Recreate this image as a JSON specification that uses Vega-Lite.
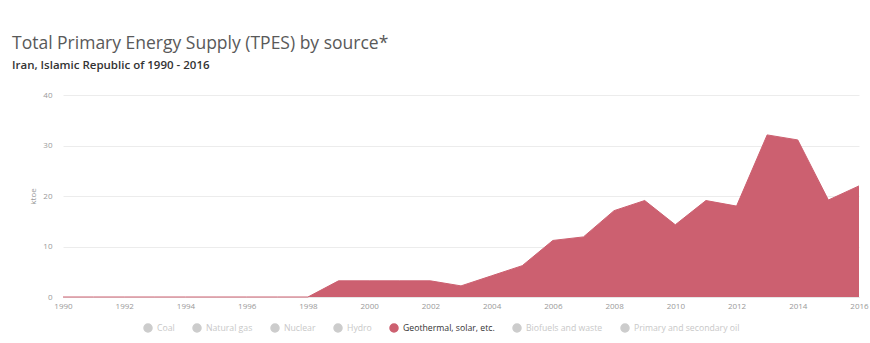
{
  "$schema": "https://vega.github.io/schema/vega-lite/v6.json",
  "width": 796,
  "height": 202,
  "autosize": {"type": "none"},
  "padding": {"left": 63, "top": 95, "right": 11, "bottom": 46},
  "background": "white",
  "config": {
    "font": "Open Sans",
    "view": {"stroke": null}
  },
  "title": {
    "text": "Total Primary Energy Supply (TPES) by source*",
    "subtitle": "Iran, Islamic Republic of 1990 - 2016",
    "anchor": "start",
    "frame": "group",
    "dx": -51,
    "fontSize": 17.5,
    "fontWeight": "normal",
    "color": "#595959",
    "subtitleFontSize": 11.5,
    "subtitleFontWeight": 600,
    "subtitleColor": "#333333",
    "subtitlePadding": 7,
    "offset": 20
  },
  "data": {
    "values": [
      {"year": 1990, "value": 0, "source": "Geothermal, solar, etc."},
      {"year": 1991, "value": 0, "source": "Geothermal, solar, etc."},
      {"year": 1992, "value": 0, "source": "Geothermal, solar, etc."},
      {"year": 1993, "value": 0, "source": "Geothermal, solar, etc."},
      {"year": 1994, "value": 0, "source": "Geothermal, solar, etc."},
      {"year": 1995, "value": 0, "source": "Geothermal, solar, etc."},
      {"year": 1996, "value": 0, "source": "Geothermal, solar, etc."},
      {"year": 1997, "value": 0, "source": "Geothermal, solar, etc."},
      {"year": 1998, "value": 0, "source": "Geothermal, solar, etc."},
      {"year": 1999, "value": 3.2, "source": "Geothermal, solar, etc."},
      {"year": 2000, "value": 3.2, "source": "Geothermal, solar, etc."},
      {"year": 2001, "value": 3.2, "source": "Geothermal, solar, etc."},
      {"year": 2002, "value": 3.2, "source": "Geothermal, solar, etc."},
      {"year": 2003, "value": 2.2, "source": "Geothermal, solar, etc."},
      {"year": 2004, "value": 4.2, "source": "Geothermal, solar, etc."},
      {"year": 2005, "value": 6.2, "source": "Geothermal, solar, etc."},
      {"year": 2006, "value": 11.2, "source": "Geothermal, solar, etc."},
      {"year": 2007, "value": 11.9, "source": "Geothermal, solar, etc."},
      {"year": 2008, "value": 17.1, "source": "Geothermal, solar, etc."},
      {"year": 2009, "value": 19.1, "source": "Geothermal, solar, etc."},
      {"year": 2010, "value": 14.3, "source": "Geothermal, solar, etc."},
      {"year": 2011, "value": 19.1, "source": "Geothermal, solar, etc."},
      {"year": 2012, "value": 18.0, "source": "Geothermal, solar, etc."},
      {"year": 2013, "value": 32.1, "source": "Geothermal, solar, etc."},
      {"year": 2014, "value": 31.1, "source": "Geothermal, solar, etc."},
      {"year": 2015, "value": 19.2, "source": "Geothermal, solar, etc."},
      {"year": 2016, "value": 22.0, "source": "Geothermal, solar, etc."}
    ]
  },
  "mark": {
    "type": "area",
    "fillOpacity": 1,
    "line": {"color": "#b4505f", "strokeWidth": 1}
  },
  "encoding": {
    "x": {
      "field": "year",
      "type": "quantitative",
      "scale": {"domain": [1990, 2016], "nice": false, "zero": false},
      "axis": {
        "title": null,
        "values": [1990, 1992, 1994, 1996, 1998, 2000, 2002, 2004, 2006, 2008, 2010, 2012, 2014, 2016],
        "format": "d",
        "grid": false,
        "ticks": false,
        "domain": true,
        "domainColor": "#e6e6e6",
        "labelColor": "#999999",
        "labelFontSize": 8,
        "labelPadding": 5,
        "labelFlush": false
      }
    },
    "y": {
      "field": "value",
      "type": "quantitative",
      "scale": {"domain": [0, 40], "nice": false},
      "axis": {
        "title": "ktoe",
        "titleFontSize": 8,
        "titleFontWeight": "normal",
        "titleColor": "#999999",
        "titlePadding": 5,
        "values": [0, 10, 20, 30, 40],
        "grid": true,
        "gridColor": "#ececec",
        "domain": false,
        "ticks": false,
        "labelColor": "#999999",
        "labelFontSize": 8,
        "labelPadding": 11
      }
    },
    "color": {
      "field": "source",
      "type": "nominal",
      "scale": {
        "domain": ["Coal", "Natural gas", "Nuclear", "Hydro", "Geothermal, solar, etc.", "Biofuels and waste", "Primary and secondary oil"],
        "range": ["#cccccc", "#cccccc", "#cccccc", "#cccccc", "#cc6070", "#cccccc", "#cccccc"]
      },
      "legend": {
        "title": null,
        "orient": "none",
        "legendX": 80,
        "legendY": 228,
        "direction": "horizontal",
        "symbolType": "circle",
        "symbolSize": 64,
        "labelFontSize": 8.7,
        "columnPadding": 15,
        "encode": {
          "symbols": {"update": {"fill": {"signal": "datum.value === 'Geothermal, solar, etc.' ? '#b5202e' : '#cccccc'"}}},
          "labels": {"update": {"fill": {"signal": "datum.value === 'Geothermal, solar, etc.' ? '#333333' : '#c8c8c8'"}}}
        }
      }
    }
  }
}
